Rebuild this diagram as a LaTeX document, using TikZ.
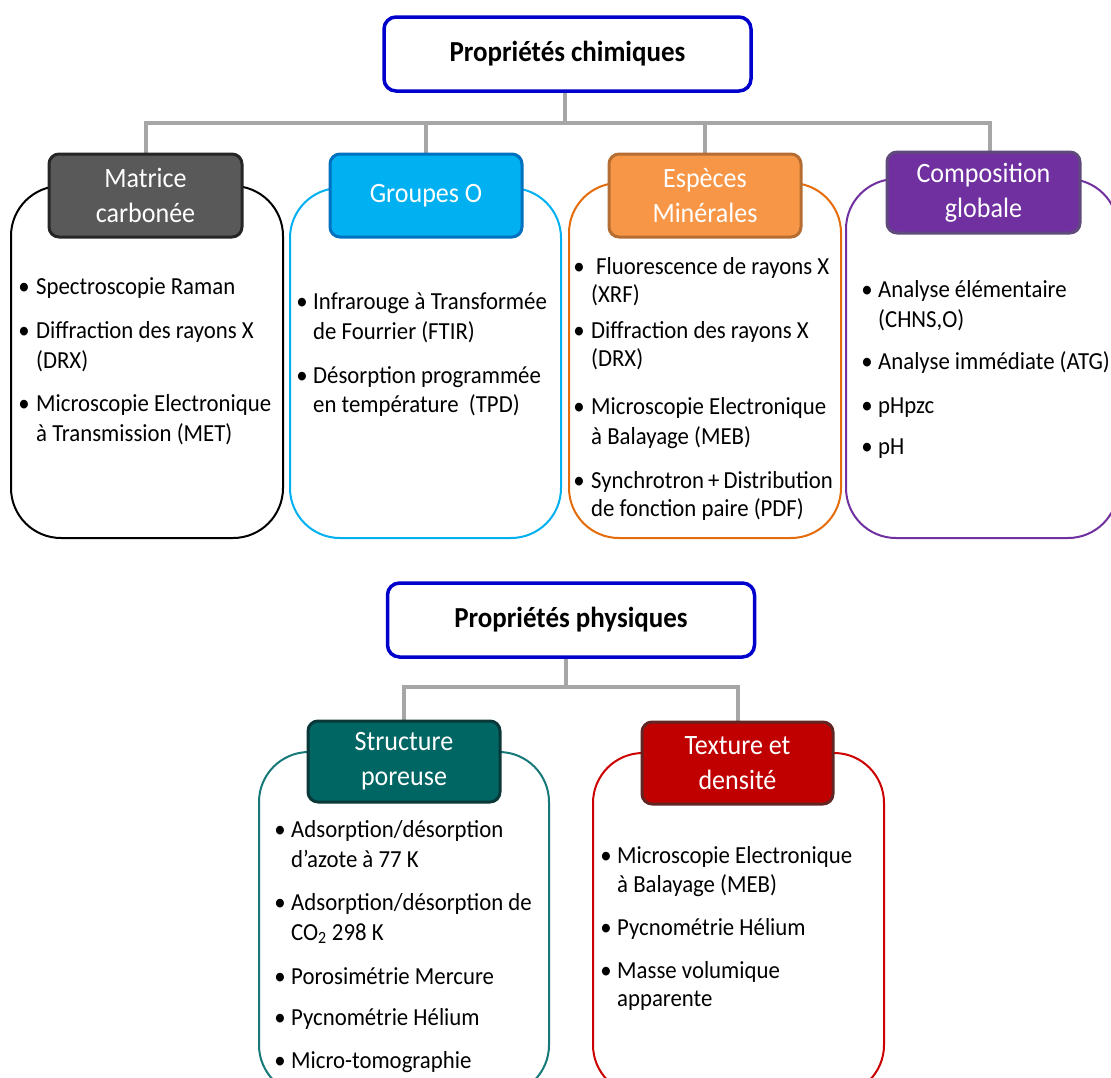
\documentclass[tikz,border=0pt]{standalone}
\usepackage{fontspec}
\setmainfont{Carlito}[FakeStretch=0.93]
\usetikzlibrary{backgrounds}
\definecolor{titleblue}{RGB}{0,0,204}
\definecolor{conngray}{RGB}{166,166,166}
\definecolor{mfill}{RGB}{89,89,89}\definecolor{mdraw}{RGB}{38,38,38}
\definecolor{gfill}{RGB}{0,176,240}\definecolor{gdraw}{RGB}{0,112,192}
\definecolor{efill}{RGB}{247,150,70}\definecolor{edraw}{RGB}{182,109,49}
\definecolor{cfill}{RGB}{112,48,160}\definecolor{cdraw}{RGB}{96,74,123}
\definecolor{sfill}{RGB}{0,102,100}\definecolor{sdraw}{RGB}{10,56,56}
\definecolor{tfill}{RGB}{192,0,0}\definecolor{tdraw}{RGB}{99,37,35}
\definecolor{ebody}{RGB}{228,108,10}
\definecolor{sbody}{RGB}{22,120,120}
\definecolor{tbody}{RGB}{204,0,0}
\newcommand\bitem[5]{\node[bul] (#1dot) at (#2,#4) {\textbullet}; \node[txt] (#1) at (#3,#4) {#5};}
\newcommand\tline[4]{\node[txt] (#1) at (#2,#3) {#4};}
\begin{document}
\begin{tikzpicture}[x=1pt,y=-1pt,
  bodybox/.style={draw, line width=2pt, rounded corners=50pt, inner sep=0pt},
  headbox/.style={line width=3pt, rounded corners=10pt, inner sep=0pt, text=white, align=center, font=\fontsize{28}{35}\selectfont},
  titlebox/.style={draw=titleblue, line width=3.5pt, rounded corners=12pt, fill=white, minimum width=367pt, minimum height=74pt, inner sep=0pt, font=\bfseries\fontsize{29}{32}\selectfont},
  conn/.style={draw=conngray, line width=4pt},
  txt/.style={anchor=base west, inner sep=0pt, font=\fontsize{24.5}{30}\selectfont},
  bul/.style={anchor=base, inner sep=0pt, font=\fontsize{24.5}{30}\selectfont}
]
\useasboundingbox (0,0) rectangle (1111,1077);

% body outlines
\node[bodybox, draw=black, minimum width=272pt, minimum height=352pt] (mb) at (147,362) {};
\node[bodybox, draw=gfill, minimum width=271pt, minimum height=350pt] (gb) at (425.5,363) {};
\node[bodybox, draw=ebody, minimum width=272pt, minimum height=355pt] (eb) at (705,360.5) {};
\node[bodybox, draw=cfill, minimum width=272pt, minimum height=359pt] (cb) at (982,358.5) {};
\node[bodybox, draw=sbody, minimum width=290pt, minimum height=343pt] (sb) at (404,923.5) {};
\node[bodybox, draw=tbody, minimum width=291pt, minimum height=342pt] (tb) at (738.5,924) {};

% headers
\node[headbox, fill=mfill, draw=mdraw, minimum width=193pt, minimum height=83pt] (mh) at (145.5,195.5) {Matrice\\carbonée};
\node[headbox, fill=gfill, draw=gdraw, minimum width=192pt, minimum height=83pt] (gh) at (426,195.5) {Groupes O};
\node[headbox, fill=efill, draw=edraw, minimum width=192pt, minimum height=83pt] (eh) at (705,195.5) {Espèces\\Minérales};
\node[headbox, fill=cfill, draw=cdraw, minimum width=193pt, minimum height=81pt] (ch) at (983.5,192.5) {Composition\\globale};
\node[headbox, fill=sfill, draw=sdraw, minimum width=192pt, minimum height=81pt] (sh) at (404,761.5) {Structure\\poreuse};
\node[headbox, fill=tfill, draw=tdraw, minimum width=191pt, minimum height=82pt] (th) at (737.5,763) {Texture et\\densité};

% titles
\node[titlebox] (pc) at (567.5,54) {Propriétés chimiques};
\node[titlebox] (pp) at (571,620) {Propriétés physiques};

% connectors
\coordinate (j1) at (565,123);
\coordinate (cj) at (990,123);
\coordinate (j2) at (566,687);
\begin{scope}[on background layer]
\draw[conn] ([xshift=-2.5pt]pc.south) -- ([xshift=-2.5pt]pc.south |- j1);
\draw[conn] (mh.north) |- (cj) -- (cj |- ch.north);
\draw[conn] (gh.north) -- (gh.north |- j1);
\draw[conn] (eh.north) -- (eh.north |- j1);
\draw[conn] ([xshift=-5pt]pp.south) -- ([xshift=-5pt]pp.south |- j2);
\draw[conn] (sh.north) |- (th.north |- j2) -- (th.north);
\end{scope}

% Matrice carbonée
\bitem{m1}{24}{36}{294}{Spectroscopie Raman}
\bitem{m2}{24}{36}{338}{Diffraction des rayons X}
\tline{m2b}{36}{368}{(DRX)}
\bitem{m3}{24}{36}{411}{Microscopie Electronique}
\tline{m3b}{36}{441}{à Transmission (MET)}

% Groupes O
\bitem{g1}{302}{313}{309}{Infrarouge à Transformée}
\tline{g1b}{313}{339}{de Fourrier (FTIR)}
\bitem{g2}{302}{313}{383}{Désorption programmée}
\tline{g2b}{313}{412}{en température\ \ (TPD)}

% Espèces minérales
\bitem{e1}{579}{596}{274}{Fluorescence de rayons X}
\tline{e1b}{591}{302}{(XRF)}
\bitem{e2}{579}{591}{338}{Diffraction des rayons X}
\tline{e2b}{591}{366}{(DRX)}
\bitem{e3}{579}{591}{414}{Microscopie Electronique}
\tline{e3b}{591}{444}{à Balayage (MEB)}
\bitem{e4}{579}{591}{488}{Synchrotron\,+\,Distribution}
\tline{e4b}{591}{516}{de fonction paire (PDF)}

% Composition globale
\bitem{c1}{867}{878}{297}{Analyse élémentaire}
\tline{c1b}{878}{327}{(CHNS,O)}
\bitem{c2}{867}{878}{369}{Analyse immédiate (ATG)}
\bitem{c3}{867}{878}{413}{pHpzc}
\bitem{c4}{867}{878}{454}{pH}

% Structure poreuse
\bitem{s1}{280}{291}{837}{Adsorption/désorption}
\tline{s1b}{291}{867}{d’azote à 77 K}
\bitem{s2}{280}{291}{910}{Adsorption/désorption de}
\tline{s2b}{291}{940}{CO\textsubscript{2} 298 K}
\bitem{s3}{280}{291}{984}{Porosimétrie Mercure}
\bitem{s4}{280}{291}{1025}{Pycnométrie Hélium}
\bitem{s5}{280}{291}{1068}{Micro-tomographie}

% Texture et densité
\bitem{x1}{606}{617}{863}{Microscopie Electronique}
\tline{x1b}{617}{892}{à Balayage (MEB)}
\bitem{x2}{606}{617}{935}{Pycnométrie Hélium}
\bitem{x3}{606}{617}{978}{Masse volumique}
\tline{x3b}{617}{1006}{apparente}
\end{tikzpicture}
\end{document}
